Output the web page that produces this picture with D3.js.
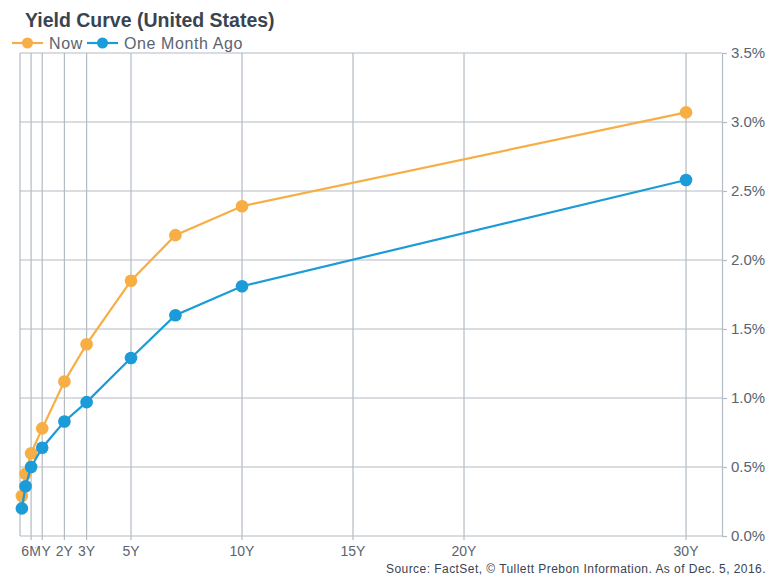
<!DOCTYPE html>
<html><head><meta charset="utf-8">
<script src="https://cdn.jsdelivr.net/npm/d3@7"></script>
<style>
html,body{margin:0;padding:0;background:#fff;}
svg{display:block;font-family:"Liberation Sans",Arial,sans-serif;}
</style></head>
<body><svg id="c" width="771" height="576"></svg>
<script>
// Data
const maturities = [1/12, 0.25, 0.5, 1, 2, 3, 5, 7, 10, 30];
const nowYields = [0.29, 0.45, 0.60, 0.78, 1.12, 1.39, 1.85, 2.18, 2.39, 3.07];
const monthAgoYields = [0.20, 0.36, 0.50, 0.64, 0.83, 0.97, 1.29, 1.60, 1.81, 2.58];
const xTickYears = [0.5, 1, 2, 3, 5, 10, 15, 20, 30];
const xTickLabels = ["6M", "1Y", "2Y", "3Y", "5Y", "10Y", "15Y", "20Y", "30Y"];
const yTicks = [0, 0.5, 1.0, 1.5, 2.0, 2.5, 3.0, 3.5];
const seriesNames = ["Now", "One Month Ago"];
const colors = ["#F6AE45", "#1B9BD7"];

const svg = d3.select("#c");
const x = d3.scaleLinear().domain([0, 31.62]).range([20, 722]);
const y = d3.scaleLinear().domain([0, 3.5]).range([536, 53]);
const grid = "#B3BBC4";
const txt = "#5A6470";

// horizontal grid
svg.append("g").selectAll("line").data(yTicks).join("line")
  .attr("x1", x(0)).attr("x2", 722).attr("y1", d => y(d)).attr("y2", d => y(d))
  .attr("stroke", grid).attr("stroke-width", 1.2);
// vertical grid
svg.append("g").selectAll("line").data(xTickYears).join("line")
  .attr("x1", d => x(d)).attr("x2", d => x(d)).attr("y1", y(3.5)).attr("y2", y(0) + 4)
  .attr("stroke", grid).attr("stroke-width", 1.2);
// left border
svg.append("line").attr("x1", x(0)).attr("x2", x(0)).attr("y1", y(3.5)).attr("y2", y(0))
  .attr("stroke", grid).attr("stroke-width", 1.2);

// right axis
const yAxis = d3.axisRight(y).tickValues(yTicks).tickSize(5).tickPadding(4)
  .tickFormat(d => d.toFixed(1) + "%");
const ya = svg.append("g").attr("transform", "translate(722,0)").call(yAxis);
ya.select(".domain").attr("stroke", grid).attr("stroke-width", 1.2);
ya.selectAll(".tick line").attr("stroke", grid).attr("stroke-width", 1.2);
ya.selectAll(".tick text").attr("fill", txt).attr("font-size", 15).attr("font-family", "Liberation Sans, Arial, sans-serif");

// bottom axis labels (drawn in reverse so earlier labels sit on top)
const xl = svg.append("g");
xl.selectAll("text").data(d3.range(xTickYears.length).reverse()).join("text")
  .attr("x", i => x(xTickYears[i])).attr("y", 556)
  .attr("text-anchor", "middle").attr("font-size", 14).attr("fill", txt)
  .attr("stroke", "#fff").attr("stroke-width", 3).attr("paint-order", "stroke")
  .text(i => xTickLabels[i]);

// lines
const line = d3.line().x(d => x(d[0])).y(d => y(d[1]));
[nowYields, monthAgoYields].forEach((vals, si) => {
  const pts = maturities.map((m, i) => [m, vals[i]]);
  svg.append("path").datum(pts).attr("d", line).attr("fill", "none")
    .attr("stroke", colors[si]).attr("stroke-width", 2.2);
  svg.append("g").selectAll("circle").data(pts).join("circle")
    .attr("cx", d => x(d[0])).attr("cy", d => y(d[1])).attr("r", 6.3)
    .attr("fill", colors[si]);
});

// title
svg.append("text").attr("x", 25).attr("y", 27).attr("font-size", 19.5).attr("font-weight", "bold")
  .attr("fill", "#3A4350").text("Yield Curve (United States)");

// legend
const legX = [12, 87];
seriesNames.forEach((n, i) => {
  const g = svg.append("g");
  g.append("line").attr("x1", legX[i]).attr("x2", legX[i] + 31).attr("y1", 43).attr("y2", 43)
    .attr("stroke", colors[i]).attr("stroke-width", 2.2);
  g.append("circle").attr("cx", legX[i] + 15.5).attr("cy", 43).attr("r", 5.5).attr("fill", colors[i]);
  g.append("text").attr("x", legX[i] + 37).attr("y", 48.5).attr("font-size", 16)
    .attr("letter-spacing", 0.6).attr("fill", txt).text(n);
});

// source
svg.append("text").attr("x", 766).attr("y", 573).attr("text-anchor", "end").attr("font-size", 12)
  .attr("letter-spacing", 0.45)
  .attr("fill", "#3A4350").text("Source: FactSet, © Tullett Prebon Information. As of Dec. 5, 2016.");
</script></body></html>
